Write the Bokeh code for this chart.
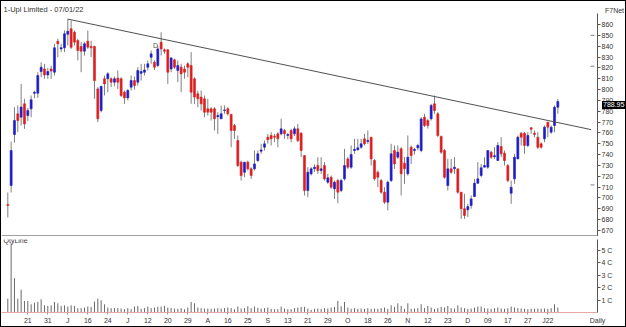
from bokeh.plotting import figure
from bokeh.layouts import column
from bokeh.models import Range1d, FixedTicker, Label, Span, ColumnDataSource, Div
from bokeh.embed import file_html
from bokeh.resources import INLINE

title_text = "1-Upl Limited - 07/01/22"
last_price = 788.95

opens = [694, 711.5, 758.5, 777.6, 774.5, 786.8, 776, 782.2, 796.5, 796.6,
         816.6, 819, 813.5, 819, 816, 844.6, 837.5, 838.5, 851, 856,
         852.9, 845.2, 839.7, 835.4, 844.6, 839.7, 839.7, 800.6, 780.6, 809.9,
         809.9, 809.9, 806.8, 810.5, 809.9, 797.6, 792.3, 802.2, 808.3, 806.8,
         815, 816, 820.6, 829.8, 825.2, 822.2, 843.7, 836.6, 836.6, 819,
         827.4, 817.6, 820.6, 819, 823.7, 822.2, 809.9, 796, 793, 791.4,
         782.2, 782.2, 782.2, 775, 773, 780.6, 782.2, 777, 766.8, 753,
         733, 723.7, 733, 726.8, 726.8, 734.5, 743.1, 746.8, 756, 757.6,
         757, 759.1, 759.1, 762.2, 757.6, 762.2, 759.1, 763.7, 759.7, 739.1,
         706.8, 722.2, 727, 729.9, 725.3, 729.9, 714.5, 719.1, 708.4, 716,
         706.8, 717.6, 736, 728.4, 743.7, 744.4, 746.8, 754.5, 752, 756,
         734.5, 723.7, 716, 705.3, 696.1, 716, 743.7, 737.6, 745.3, 732,
         722.2, 746.8, 743.7, 746.2, 743.7, 774.5, 771.4, 773, 786.8, 777.6,
         756.6, 743.7, 711.5, 726.8, 727, 726.8, 705.3, 690, 689, 693,
         701.3, 713.6, 720.7, 728.4, 728.4, 742.2, 738, 734.5, 747.4, 741.3,
         729.9, 704.4, 717.6, 736, 759.7, 759.7, 748.4, 764.7, 759.7, 756,
         749.9, 754.5, 769.9, 760.7, 766.8, 783.7]
highs = [705, 752, 783.7, 785.3, 805.2, 791.4, 783, 794.5, 799, 816,
         825.2, 823.7, 820, 822, 842.2, 846.8, 842.2, 854.5, 865, 863.7,
         854.4, 846.8, 843.7, 843.7, 854.4, 845, 840.5, 802.2, 803.7, 812.9,
         816, 811.4, 812, 817.6, 811.4, 799.1, 800.6, 812.9, 812, 820.6,
         823.7, 823.7, 826.8, 836, 827, 840.6, 852.9, 838, 837.5, 829.8,
         828.4, 826.8, 823.7, 822, 825.2, 834.5, 811.4, 799, 799.1, 794.5,
         791.4, 783.7, 783.7, 779.1, 785.3, 785.3, 783.7, 777.6, 768.3, 757.6,
         734.5, 733, 734.5, 728.4, 743.7, 743.7, 749.9, 753, 759, 760.7,
         759, 760.7, 773, 763.7, 760, 763.7, 766, 768.3, 760.7, 739.1,
         728.4, 728.4, 731, 737.6, 737.6, 733, 722.2, 720.7, 716, 717.6,
         717.6, 745.3, 737.6, 748.4, 754.5, 754.5, 754.5, 759.1, 762.2, 756,
         736, 725.3, 717.6, 709.9, 716, 749.9, 748.4, 748.4, 746.8, 737.6,
         757.6, 748.4, 746, 750, 774.5, 777.6, 773, 786.8, 794.5, 779.1,
         757.6, 745.3, 736, 736, 737.6, 726.8, 705.3, 703.8, 694.5, 702.2,
         717.6, 733, 731.4, 737.6, 743.7, 743.7, 746.8, 751.4, 756, 743.7,
         731.4, 716, 740.7, 757.6, 760.7, 760.7, 760.7, 765.3, 762.2, 760.7,
         751.4, 766.8, 769.9, 766.8, 785.3, 791.4]
lows = [682, 705, 751, 760.7, 766.8, 763.7, 771, 774.5, 792, 792.3,
        811.4, 809.9, 809.9, 809.9, 813, 829.8, 834.5, 834.5, 840.6, 837.5,
        840.6, 826.8, 816, 831.4, 837.5, 830, 791.4, 769.9, 779, 794.5,
        797.6, 802.2, 803, 800.6, 793, 786.8, 789.9, 799.1, 800, 803.7,
        808.3, 813, 817.6, 823.7, 818, 820.6, 831.4, 833, 805.2, 816,
        819, 806.8, 797.6, 810, 811.4, 786.8, 786.8, 783.7, 780.6, 774.5,
        776, 771.4, 762.2, 759.1, 773, 777.6, 776, 746.8, 754.5, 728.4,
        716, 719.1, 725.3, 717.6, 725.3, 733, 740.7, 743.7, 750, 748.4,
        751.4, 746.8, 757.6, 754.5, 754, 751.4, 757, 751.4, 737.6, 702.2,
        700.7, 720.7, 724, 722.2, 722.2, 716, 713, 708.4, 699.1, 695.1,
        705.3, 716, 726.8, 726.8, 740.7, 743.7, 745.3, 748.4, 749.9, 729.9,
        716, 709.9, 703.8, 694.5, 688.4, 714.5, 726.8, 736, 702.2, 713,
        720.7, 731.4, 740, 744, 742.2, 765.3, 764, 771.4, 777.6, 756,
        740.7, 717.6, 706.8, 722.2, 722.2, 703.8, 680.7, 680.7, 682.2, 690,
        700.7, 713, 719.1, 728.4, 726.8, 736, 736, 734.5, 737.6, 730,
        714.5, 694.5, 713, 736, 748.4, 740.7, 746.8, 759.1, 756, 745,
        745.5, 751.4, 756, 759.1, 760.7, 777.6]
closes = [693, 743.7, 771.4, 771.4, 783.8, 768.3, 780.6, 790.5, 797.5, 812.9,
          820.6, 813.5, 816.6, 817, 838.5, 842.2, 838.6, 851.4, 853.8, 839,
          843.7, 836, 835.4, 842.2, 839.1, 838.5, 808.3, 773, 802.8, 805.2,
          814.5, 806.8, 809.9, 806.8, 794.5, 792.3, 799.1, 808.3, 803.7, 817.6,
          816.6, 818, 823.7, 832.9, 820.6, 837.5, 837.5, 835.4, 816, 829.2,
          820.6, 822.2, 814.5, 816, 820.6, 797.6, 793, 791.4, 786.8, 779.1,
          779.1, 779.1, 773, 776, 777.6, 781.2, 777.6, 762.2, 762.2, 729.9,
          720.7, 733, 726.8, 720.7, 731.4, 740.7, 744.3, 749.9, 753.6, 754.5,
          756, 754.5, 763.7, 759.1, 758.5, 754.5, 763.7, 753, 743.7, 706.8,
          723.7, 726.8, 728.4, 725.3, 726.8, 717.6, 718.5, 709.9, 714.5, 705.3,
          716, 729.9, 728.4, 740.1, 744.8, 746.2, 749.9, 749.9, 753, 736,
          717.6, 719.1, 705.3, 696.1, 714.5, 740.7, 731.4, 742.2, 722.2, 727,
          737.6, 739.1, 744.8, 748.4, 772.9, 766.8, 766.8, 785.3, 780.6, 757.6,
          742.2, 719.1, 726.8, 723.7, 728.4, 705.3, 690, 683.8, 692, 699.1,
          713.6, 717.6, 727.8, 729.9, 743.7, 737.6, 739, 748.4, 740.7, 734.5,
          716, 709.9, 737.6, 756, 756, 748.4, 757.6, 763.4, 758.5, 746.8,
          746.8, 765.3, 765.3, 765.3, 783.7, 788.95]
# volume in crore
volumes = [1.11, 5.57, 2.76, 1.11, 1.84, 0.93, 0.93, 0.66, 0.8, 0.85,
           1.06, 0.58, 0.53, 0.58, 0.85, 0.74, 0.53, 0.58, 0.48, 0.58,
           0.53, 0.35, 0.35, 0.4, 0.48, 0.45, 0.88, 1.11, 0.98, 0.66,
           0.4, 0.35, 0.35, 0.35, 0.32, 0.27, 0.35, 0.27, 0.48, 0.53,
           0.3, 0.35, 0.48, 0.35, 0.4, 0.45, 0.48, 0.53, 0.4, 0.37,
           0.32, 0.3, 0.35, 0.27, 0.4, 0.85, 0.74, 0.4, 0.35, 0.32,
           0.32, 0.3, 0.32, 0.35, 0.32, 0.35, 0.4, 0.35, 0.27, 0.48,
           0.32, 0.35, 0.5, 0.35, 0.48, 0.37, 0.32, 0.35, 0.4, 0.3,
           0.27, 0.27, 0.48, 0.32, 0.27, 0.27, 0.35, 0.4, 0.45, 0.45,
           0.32, 0.22, 0.3, 0.32, 0.3, 0.35, 0.32, 0.4, 0.45, 0.93,
           0.5, 0.85, 0.4, 0.3, 0.35, 0.3, 0.32, 0.3, 0.35, 0.3,
           0.32, 0.3, 0.35, 0.4, 0.3, 0.58, 0.45, 0.74, 0.53, 0.3,
           0.74, 0.3, 0.32, 0.35, 0.66, 0.35, 0.53, 0.4, 0.3, 0.35,
           0.45, 0.4, 0.53, 0.35, 0.32, 0.58, 0.4, 0.35, 0.3, 0.32,
           0.4, 0.48, 0.48, 0.35, 0.32, 0.3, 0.35, 0.4, 0.32, 0.3,
           0.35, 0.48, 0.4, 0.35, 0.32, 0.3, 0.27, 0.3, 0.3, 0.32,
           0.3, 0.32, 0.3, 0.35, 0.66, 0.4]

date_tick_positions = list(range(6, 163, 6))
date_tick_labels = ["21", "31", "J", "16", "24", "J", "12", "20", "29", "A", "16", "25", "S",
                    "13", "21", "29", "O", "18", "26", "N", "12", "23", "D", "09", "17", "27", "J22"]
price_ticks = list(range(670, 861, 10))
vol_ticks = [1, 2, 3, 4, 5]
vol_tick_labels = ["1 C", "2 C", "3 C", "4 C", "5 C"]
trend_x = [18, 175]
trend_y = [865.0, 763.0]
side_marks = [850, 821.5, 712]
div_marker_x = 44.3
div_marker_y = 840.6

BLUE = "#1c1cc8"
RED = "#dc1e1e"
FONT = "Liberation Sans"

n = len(opens)
idx = list(range(n))
colors = [BLUE if c >= o else RED for o, c in zip(opens, closes)]
src = ColumnDataSource(dict(
    x=idx, o=opens, h=highs, l=lows, c=closes,
    top=[max(o, c) for o, c in zip(opens, closes)],
    bottom=[min(o, c) for o, c in zip(opens, closes)],
    color=colors, vol=volumes, zero=[0] * n))

xr = Range1d(-1.89, 176.9)

p1 = figure(width=624, height=235, x_range=xr, y_range=Range1d(664.4, 870.15),
            output_backend="svg", toolbar_location=None,
            x_axis_location=None, y_axis_location="right",
            min_border_left=0, min_border_right=28, min_border_top=12, min_border_bottom=0)
p1.outline_line_color = None
p1.grid.visible = False
p1.background_fill_color = "white"
p1.border_fill_color = "white"

p1.title.text = title_text
p1.title.text_font = FONT
p1.title.text_font_size = "7.5px"
p1.title.text_font_style = "normal"
p1.title.text_color = "#333333"
p1.title.standoff = 0
p1.title.offset = 2
p1.title.align = "left"

p1.segment(x0="x", y0="l", x1="x", y1="h", source=src, line_color="#808080", line_width=1)
p1.vbar(x="x", top="top", bottom="bottom", width=0.6, source=src,
        fill_color="color", line_color="color", line_width=0.6)
p1.line(trend_x, trend_y, line_color="#505050", line_width=1)
p1.segment(x0=[174.8] * 3, x1=[176.0] * 3, y0=side_marks, y1=side_marks,
           line_color="#808080", line_width=1)

ya = p1.yaxis[0]
ya.ticker = FixedTicker(ticks=price_ticks)
ya.major_label_text_font = FONT
ya.major_label_text_font_size = "7px"
ya.major_label_text_color = "#333333"
ya.major_tick_out = 3
ya.major_tick_in = 0
ya.minor_tick_out = 0
ya.minor_tick_in = 0
ya.major_label_standoff = 1
ya.axis_line_color = "#555555"
ya.major_tick_line_color = "#555555"

p1.add_layout(Span(location=665.3, dimension="width", line_color="#a0a0a0", line_width=1))
p1.add_layout(Label(x=div_marker_x, y=div_marker_y, text="D", text_font=FONT,
                    text_font_size="7px", text_color="#555555", text_baseline="middle",
                    text_align="center"))

p2 = figure(width=624, height=90, x_range=xr, y_range=Range1d(0, 5.87),
            output_backend="svg", toolbar_location=None, y_axis_location="right",
            min_border_left=0, min_border_right=28, min_border_top=3, min_border_bottom=13)
p2.outline_line_color = None
p2.grid.visible = False
p2.segment(x0="x", y0="zero", x1="x", y1="vol", source=src, line_color="#6a6a6a", line_width=1)

xa = p2.xaxis[0]
xa.ticker = FixedTicker(ticks=date_tick_positions)
xa.major_label_overrides = {t: s for t, s in zip(date_tick_positions, date_tick_labels)}
xa.major_label_text_font = FONT
xa.major_label_text_font_size = "7px"
xa.major_label_text_color = "#333333"
xa.major_tick_out = 2
xa.major_tick_in = 0
xa.minor_tick_out = 0
xa.minor_tick_in = 0
xa.major_label_standoff = 2
xa.axis_line_color = "#e8a8a8"
xa.major_tick_line_color = "#999999"
xa.axis_label = "Daily"
xa.axis_label_align = "end"
xa.axis_label_standoff_mode = "axis"
xa.axis_label_standoff = 4
xa.axis_label_text_align = "left"
xa.axis_label_text_baseline = "top"
xa.axis_label_text_font = FONT
xa.axis_label_text_font_size = "7px"
xa.axis_label_text_font_style = "normal"
xa.axis_label_text_color = "#333333"

va = p2.yaxis[0]
va.ticker = FixedTicker(ticks=vol_ticks)
va.major_label_overrides = {t: s for t, s in zip(vol_ticks, vol_tick_labels)}
va.major_label_text_font = FONT
va.major_label_text_font_size = "7px"
va.major_label_text_color = "#333333"
va.major_tick_out = 3
va.major_tick_in = 0
va.minor_tick_out = 0
va.minor_tick_in = 0
va.major_label_standoff = 1
va.axis_line_color = "#555555"
va.major_tick_line_color = "#555555"

p2.add_layout(Label(x=-1.89, y=5.87, x_offset=2, y_offset=-1, text="QtyLine",
                    text_font=FONT, text_font_size="7px", text_color="#333333",
                    text_baseline="middle"))

price_tag = Div(text="%.2f" % last_price,
                styles={"position": "absolute", "left": "596px", "top": "95px",
                        "background-color": "black", "color": "white",
                        "font-family": FONT, "font-size": "7px", "line-height": "8px",
                        "padding": "0px 1px", "white-space": "nowrap",
                        "overflow": "visible", "z-index": "10"})
source_tag = Div(text="F7Net",
                 styles={"position": "absolute", "left": "599px", "top": "1px",
                         "color": "#333333", "font-family": FONT, "font-size": "7px",
                         "line-height": "8px", "white-space": "nowrap",
                         "overflow": "visible", "z-index": "10"})

layout = column(p1, p2, price_tag, source_tag, spacing=0, styles={"border": "1px solid black"})

open("out.html", "w").write(file_html(layout, INLINE))
